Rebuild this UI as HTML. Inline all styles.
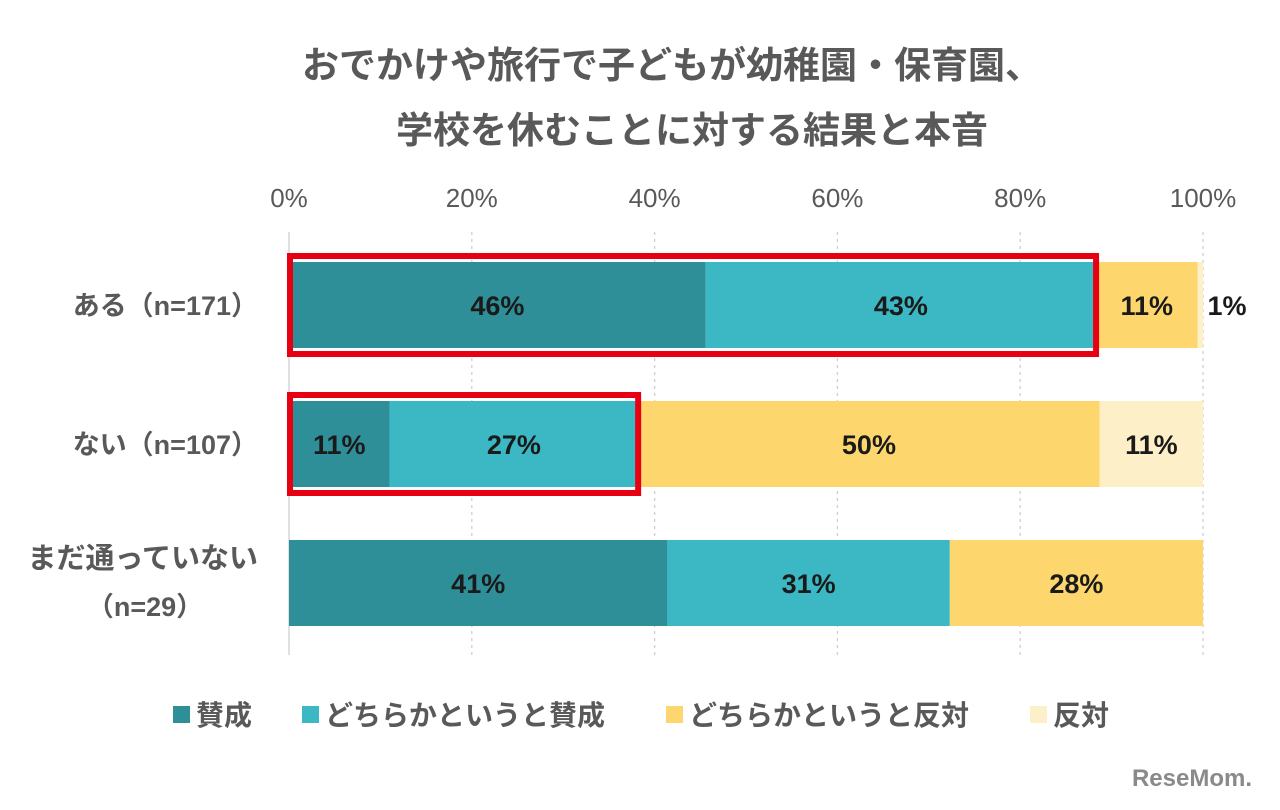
<!DOCTYPE html>
<html><head><meta charset="utf-8"><style>
body{margin:0;background:#fff;}
svg text{font-family:"Liberation Sans","Noto Sans CJK JP",sans-serif;}
</style></head><body>
<svg width="1280" height="805" xmlns="http://www.w3.org/2000/svg">
<g font-size="37" font-weight="bold" fill="#595959" text-anchor="middle">
<text x="672" y="78">おでかけや旅行で子どもが幼稚園・保育園、</text>
<text x="692" y="143">学校を休むことに対する結果と本音</text>
</g>
<g id="grid"></g><g id="bars"></g><g id="labels"></g><g id="boxes"></g>
<g font-size="28" font-weight="bold" fill="#595959">
<rect x="173" y="706" width="17" height="17" fill="#2f8f98"/><text x="196" y="725">賛成</text>
<rect x="302" y="706" width="17" height="17" fill="#3bb8c3"/><text x="325" y="725">どちらかというと賛成</text>
<rect x="666" y="706" width="17" height="17" fill="#fdd66d"/><text x="689" y="725">どちらかというと反対</text>
<rect x="1030" y="706" width="17" height="17" fill="#fdf0c8"/><text x="1053" y="725">反対</text>
</g>
<text x="1192" y="786" font-size="24" font-weight="bold" fill="#8a8a8a" text-anchor="middle">ReseMom.</text>
</svg>
<script>
const categories=["ある（n=171）","ない（n=107）","まだ通っていない"];
const s1=[45.6,11.0,41.4];
const s2=[42.7,27.2,30.9];
const s3=[11.1,50.5,27.7];
const s4=[0.6,11.3,0];
const lbl1=["46%","11%","41%"],lbl2=["43%","27%","31%"],lbl3=["11%","50%","28%"],lbl4=["1%","11%",""];
const ticks=[0,20,40,60,80,100];
const colors=["#2f8f98","#3bb8c3","#fdd66d","#fdf0c8"];
const NS="http://www.w3.org/2000/svg";
const x0=289,x1=1203;const xs=v=>x0+(x1-x0)*v/100;
const rowY=[262,401,540],bh=86;
function mk(t,a,p){const e=document.createElementNS(NS,t);for(const k in a)e.setAttribute(k,a[k]);p.appendChild(e);return e;}
const grid=document.getElementById('grid'),bars=document.getElementById('bars'),labs=document.getElementById('labels'),boxes=document.getElementById('boxes');
ticks.forEach((t,i)=>{
 const l=mk('line',{x1:xs(t),x2:xs(t),y1:232,y2:655,stroke:i==0?'#d0d0d0':'#cfcfcf','stroke-dasharray':i==0?'':'3,4','stroke-width':1.3},grid);
 
 
 const tx=mk('text',{x:xs(t),y:207,'text-anchor':'middle','font-size':26,fill:'#595959'},grid);tx.textContent=t+'%';
 
 
});
const series=[s1,s2,s3,s4],lbls=[lbl1,lbl2,lbl3,lbl4];
categories.forEach((c,i)=>{
 let acc=0;const y=rowY[i];
 series.forEach((s,j)=>{
  const v=s[i];if(v<=0)return;
  const r=mk('rect',{x:xs(acc),y:y,width:xs(acc+v)-xs(acc),height:bh,fill:colors[j]},bars);
  
  
  const lab=lbls[j][i];
  if(lab){let cx=(xs(acc)+xs(acc+v))/2;if(v<3)cx=xs(acc+v)+24;
   const t=mk('text',{x:cx,y:y+bh/2+10,'text-anchor':'middle','font-size':27,'font-weight':'bold',fill:'#1a1a1a'},labs);t.textContent=lab;
   
   }
  acc+=v;
 });
 if(i<2){
  const t=mk('text',{x:258,y:y+bh/2+10,'text-anchor':'end','font-size':27,'font-weight':'bold',fill:'#595959'},labs);t.textContent=c;
  
  
 } else {
  const t=mk('text',{x:258,y:y+28,'text-anchor':'end','font-size':29,'font-weight':'bold',fill:'#595959'},labs);t.textContent=c;
  
  
  const t2=mk('text',{x:145,y:y+76,'text-anchor':'middle','font-size':27,'font-weight':'bold',fill:'#595959'},labs);t2.textContent="（n=29）";
  
  
 }
});
[[0,s1[0]+s2[0]],[1,s1[1]+s2[1]]].forEach(([i,v])=>{
 const b=mk('rect',{x:x0+1,y:rowY[i]-6,width:xs(v)-x0-1,height:bh+12,fill:'none',stroke:'#e60012','stroke-width':6},boxes);
 
 
});
</script>
</body></html>
